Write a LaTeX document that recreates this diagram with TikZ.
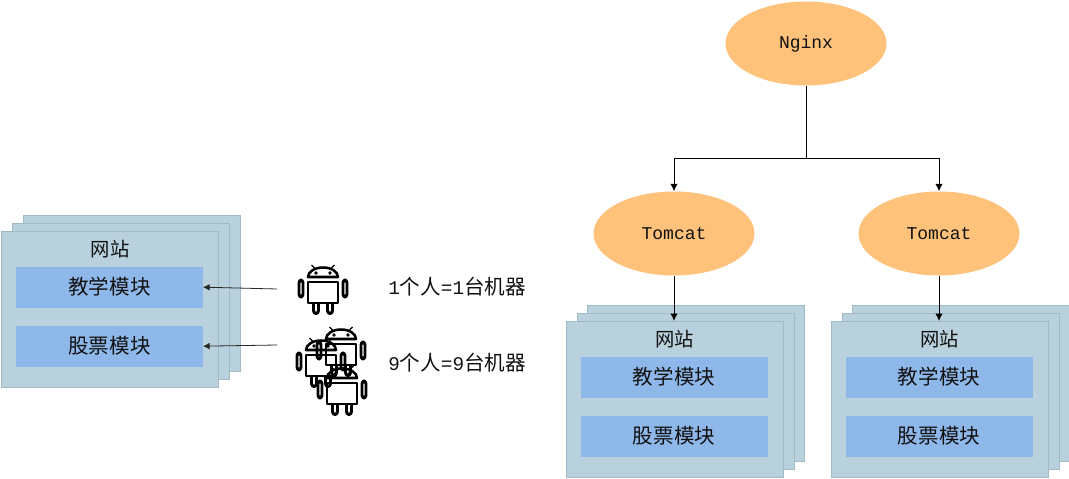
\documentclass[tikz,border=0pt]{standalone}
\usepackage{fontspec}
\setmainfont{Liberation Mono}
\newfontfamily\cjk{Noto Sans CJK SC}
\usetikzlibrary{arrows.meta,shapes.geometric}
\definecolor{boxfill}{HTML}{B9D1DD}
\definecolor{boxline}{HTML}{A2BAC6}
\definecolor{modfill}{HTML}{8FB8EA}
\definecolor{ellfill}{HTML}{FFC27A}
\definecolor{ink}{HTML}{111111}
\newcommand{\notecjk}[1]{{\cjk\fontsize{15.4}{15}\selectfont #1}}
\tikzset{
  sheet/.style={draw=boxline,fill=boxfill,line width=0.7pt,inner sep=0pt,outer sep=0pt,minimum width=162.75pt,minimum height=117pt},
  modbox/.style={fill=modfill,inner sep=0pt,outer sep=0pt,minimum width=140.25pt,minimum height=31pt,font=\cjk\fontsize{15.4}{15}\selectfont,text=ink},
  sitelabel/.style={inner sep=0pt,font=\cjk\fontsize{14.5}{15}\selectfont,text=ink},
  server/.style={ellipse,fill=ellfill,inner sep=0pt,minimum width=120.75pt,minimum height=63pt,font=\fontsize{13.5}{14}\selectfont,text=ink},
  conn/.style={draw=black,line width=0.75pt,-{Latex[length=5.5pt,width=5.5pt]}},
  thin conn/.style={draw=black!85,line width=0.6pt,-{Latex[length=5pt,width=5pt]}},
  note/.style={inner sep=0pt,anchor=west,text=ink,font=\fontsize{14.5}{15}\selectfont},
  robot/.style={line width=2.2pt,draw=black,line join=round},
  pics/android/.style={code={
    % head
    \draw[robot,line width=1.9pt] (-15,-13) arc[start angle=180,end angle=360,x radius=15,y radius=9.5] -- cycle;
    \draw[line width=1pt] (-11.5,-25) -- (-7.5,-21) (11.5,-25) -- (7.5,-21);
    \fill (-7,-17) circle[radius=1.8] (7,-17) circle[radius=1.8];
    % body
    \draw[robot] (-15,-8) rectangle (15,13);
    % legs
    \draw[robot] (-9.5,13) -- (-9.5,20.5) arc[start angle=180,end angle=0,x radius=2.5,y radius=3] -- (-4.5,13);
    \draw[robot] (4.5,13) -- (4.5,20.5) arc[start angle=180,end angle=0,x radius=2.5,y radius=3] -- (9.5,13);
    % arms
    \draw[robot,rounded corners=2pt] (-24,-10) rectangle (-20,7);
    \draw[robot,rounded corners=2pt] (20,-10) rectangle (24,7);
  }}
}
\newcommand{\sitestack}[3]{% prefix, x of front-left, y of front-top
  \node[sheet,anchor=north west] (#1c) at (#2+21.5,#3-16) {};
  \node[sheet,anchor=north west] (#1b) at (#2+11,#3-8) {};
  \node[sheet,anchor=north west] (#1a) at (#2,#3) {};
  \node[sitelabel] (#1t) at (#2+108.5,#3+18) {网站};
  \node[modbox,anchor=north west] (#1m) at (#2+14.5,#3+35.5) {\raisebox{1.4pt}{教学模块}};
  \node[modbox,anchor=north west] (#1n) at (#2+14.5,#3+94.5) {\raisebox{1.4pt}{股票模块}};
}
\begin{document}
\begin{tikzpicture}[x=0.75pt,y=-0.75pt]
\useasboundingbox (0,0) rectangle (1069,478);
\sitestack{l}{1.5}{231}
\sitestack{p}{566}{321}
\sitestack{q}{831}{321}
\node[server] (nginx) at (806,43.5) {Nginx};
\node[server] (tomA) at (674,233.5) {Tomcat};
\node[server] (tomB) at (939,233.5) {Tomcat};
\coordinate (fork) at (806,158);
\draw[conn] (nginx.south) -- (fork) -| (tomA.north);
\draw[conn] (fork) -| (tomB.north);
\draw[conn] (tomA.south) -- (tomA.south |- pa.north);
\draw[conn] (tomB.south) -- (tomB.south |- qa.north);
\pic at (323,290) {android};
\pic at (341,352) {android};
\pic at (321,363) {android};
\pic at (342,391) {android};
\coordinate (oneuser) at (277,289);
\coordinate (nineuser) at (277,345);
\draw[thin conn] (oneuser) -- (lm.east);
\draw[thin conn] (nineuser) -- (ln.east);
\node[note] (n1) at (388,287) {1\notecjk{个人}=1\notecjk{台机器}};
\node[note] (n2) at (388,363) {9\notecjk{个人}=9\notecjk{台机器}};
\end{tikzpicture}
\end{document}
